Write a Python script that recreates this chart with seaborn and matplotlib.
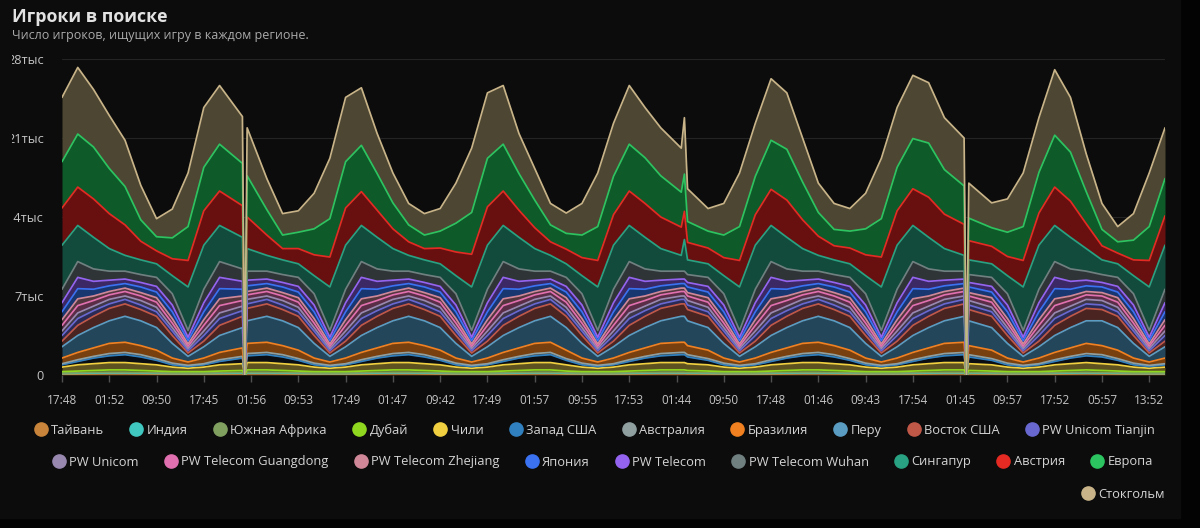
import numpy as np
import pandas as pd
import matplotlib
matplotlib.use("Agg")
import matplotlib.pyplot as plt
import seaborn as sns
from matplotlib.transforms import Bbox, TransformedBbox
from matplotlib.lines import Line2D
from matplotlib.patches import Rectangle

# sample positions: one step ~ 2h40m; the samples next to the two outages
# and the short burst are closer together
positions = [0, 1, 2, 3, 4, 5, 6, 7, 8, 9, 10, 11.45, 11.6, 11.75]
positions += list(range(13, 39)) + [39.3, 39.5, 39.7]
positions += list(range(41, 57)) + [57.25, 57.4, 57.55]
positions += list(range(59, 71))

tick_pos = list(range(0, 70, 3))
tick_labels = ["17:48", "01:52", "09:50", "17:45", "01:56", "09:53", "17:49", "01:47",
               "09:42", "17:49", "01:57", "09:55", "17:53", "01:44", "09:50", "17:48",
               "01:46", "09:43", "17:54", "01:45", "09:57", "17:52", "05:57", "13:52"]

regions = ["Тайвань", "Индия", "Южная Африка", "Дубай", "Чили", "Запад США", "Австралия",
           "Бразилия", "Перу", "Восток США", "PW Unicom Tianjin", "PW Unicom",
           "PW Telecom Guangdong", "PW Telecom Zhejiang", "Япония", "PW Telecom",
           "PW Telecom Wuhan", "Сингапур", "Австрия", "Европа", "Стокгольм"]

taiwan = [70,80,90,100,100,90,80,70,70,70,80,90, 0,
          100,100,90,80,70,70,70,80,90,100,100,90,80,70,70,70,80,90,100,100,80,70,70,70,80,90,100,100, 100,
          90,80,70,70,70,80,90,100,100,90,80,70,70,70,80,90,100,100, 0,
          90,80,70,70,70,80,90,100,90,80,70,70,70]
india = [60,70,80,90,90,80,70,60,60,60,70,80, 0,
         90,90,80,70,60,60,60,70,80,90,90,80,70,60,60,60,70,80,90,90,70,60,60,60,70,80,90,90, 90,
         80,70,60,60,60,70,80,90,90,80,70,60,60,60,70,80,90,90, 0,
         80,70,60,60,60,70,80,90,80,70,60,60,60]
south_africa = [40,50,60,60,60,50,50,40,40,40,50,60, 0,
                60,60,50,50,40,40,40,50,60,60,60,50,50,40,40,40,50,60,60,60,50,40,40,40,50,60,60,60, 60,
                50,50,40,40,40,50,60,60,60,50,50,40,40,40,50,60,60,60, 0,
                50,50,40,40,40,50,60,60,50,50,40,40,40]
dubai = [130,150,170,200,200,180,150,130,130,130,150,170, 0,
         200,200,180,150,130,130,130,150,170,200,200,180,150,130,130,130,150,170,200,200,150,130,130,130,150,170,200,200, 200,
         180,150,130,130,130,150,170,200,200,180,150,130,130,130,150,170,200,200, 0,
         180,150,130,130,130,150,170,200,180,150,130,130,130]
chile = [400,550,600,650,650,600,550,400,300,400,550,600, 0,
         650,650,600,550,400,300,400,550,600,650,650,600,550,400,300,400,550,600,650,650,550,400,300,400,550,600,650,650, 650,
         600,550,400,300,400,550,600,650,650,600,550,400,300,400,550,600,650,650, 0,
         600,550,400,300,400,550,600,650,600,550,400,300,400]
us_west = [200,300,500,600,700,600,400,200,150,200,300,500, 0,
           600,700,600,400,200,150,200,300,500,600,700,600,400,200,150,200,300,500,600,700,400,200,150,200,300,500,600,700, 700,
           600,400,200,150,200,300,500,600,700,600,400,200,150,200,300,500,600,700, 0,
           600,400,200,150,200,300,500,600,600,400,200,150,200]
australia = [100,150,150,200,200,200,150,150,100,100,150,150, 0,
             200,200,200,150,150,100,100,150,150,200,200,200,150,150,100,100,150,150,200,200,150,150,100,100,150,150,200,200, 200,
             200,150,150,100,100,150,150,200,200,200,150,150,100,100,150,150,200,200, 0,
             200,150,150,100,100,150,150,200,200,150,150,100,100]
brazil = [500,650,750,900,900,800,750,450,300,500,650,750, 0,
          900,900,800,750,450,300,500,650,750,900,900,800,750,450,300,500,650,750,900,900,750,450,300,500,650,750,900,900, 900,
          800,750,450,300,500,650,750,900,900,800,750,450,300,500,650,750,900,900, 0,
          800,750,450,300,500,650,750,900,800,750,450,300,500]
peru = [1000,1500,1800,2000,2300,2200,2000,1300,500,1000,1500,1800, 0,
        2000,2300,2200,2000,1300,500,1000,1500,1800,2000,2300,2200,2000,1300,500,1000,1500,1800,2000,2300,2000,1300,500,1000,1500,1800,2000,2300, 2300,
        2200,2000,1300,500,1000,1500,1800,2000,2300,2200,2000,1300,500,1000,1500,1800,2000,2300, 0,
        2200,2000,1300,500,1000,1500,1800,2000,2200,2000,1300,500,1000]
us_east = [500,900,1000,1100,1100,1000,1000,700,300,500,900,1000, 0,
           1100,1100,1000,1000,700,300,500,900,1000,1100,1100,1000,1000,700,300,500,900,1000,1100,1100,1000,700,300,500,900,1000,1100,1100, 1100,
           1000,1000,700,300,500,900,1000,1100,1100,1000,1000,700,300,500,900,1000,1100,1100, 0,
           1000,1000,700,300,500,900,1000,1100,1000,1000,700,300,500]
unicom_tianjin = [500,600,500,400,400,400,400,400,200,500,600,500, 0,
                  400,400,400,400,400,200,500,600,500,400,400,400,400,400,200,500,600,500,400,400,400,400,200,500,600,500,400,400, 400,
                  400,400,400,200,500,600,500,400,400,400,400,400,200,500,600,500,400,400, 0,
                  400,400,400,200,500,600,500,400,400,400,400,200,500]
unicom = [400,500,400,400,300,400,400,300,200,400,500,400, 0,
          400,300,400,400,300,200,400,500,400,400,300,400,400,300,200,400,500,400,400,300,400,300,200,400,500,400,400,300, 300,
          400,400,300,200,400,500,400,400,300,400,400,300,200,400,500,400,400,300, 0,
          400,400,300,200,400,500,400,400,400,400,300,200,400]
telecom_guangdong = [500,650,500,400,400,400,450,400,200,500,650,500, 0,
                     400,400,400,450,400,200,500,650,500,400,400,400,450,400,200,500,650,500,400,400,450,400,200,500,650,500,400,400, 400,
                     400,450,400,200,500,650,500,400,400,400,450,400,200,500,650,500,400,400, 0,
                     400,450,400,200,500,650,500,400,400,450,400,200,500]
telecom_zhejiang = [500,600,400,300,300,300,400,400,200,500,600,400, 0,
                    300,300,300,400,400,200,500,600,400,300,300,300,400,400,200,500,600,400,300,300,400,400,200,500,600,400,300,300, 300,
                    300,400,400,200,500,600,400,300,300,300,400,400,200,500,600,400,300,300, 0,
                    300,400,400,200,500,600,400,300,300,400,400,200,500]
japan = [700,900,600,500,400,500,500,600,300,700,900,600, 0,
         500,400,500,500,600,300,700,900,600,500,400,500,500,600,300,700,900,600,500,400,500,600,300,700,900,600,500,400, 400,
         500,500,600,300,700,900,600,500,400,500,500,600,300,700,900,600,500,400, 0,
         500,500,600,300,700,900,600,500,500,500,600,300,700]
telecom = [800,1000,700,500,400,400,500,600,300,800,1000,700, 0,
           500,400,400,500,600,300,800,1000,700,500,400,400,500,600,300,800,1000,700,500,400,500,600,300,800,1000,700,500,400, 400,
           400,500,600,300,800,1000,700,500,400,400,500,600,300,800,1000,700,500,400, 0,
           400,500,600,300,800,1000,700,500,400,500,600,300,800]
telecom_wuhan = [1200,1400,1100,800,700,700,800,1000,600,1200,1400,1100, 0,
                 800,700,700,800,1000,600,1200,1400,1100,800,700,700,800,1000,600,1200,1400,1100,800,700,800,1000,600,1200,1400,1100,800,700, 700,
                 700,800,1000,600,1200,1400,1100,800,700,700,800,1000,600,1200,1400,1100,800,700, 0,
                 700,800,1000,600,1200,1400,1100,800,700,800,1000,600,1200]
singapore = [3900,3200,2800,2000,1400,1300,1200,1600,3850,3900,3200,2800, 0,
             2000,1400,1300,1200,1600,3850,3900,3200,2800,2000,1400,1300,1200,1600,3850,3900,3200,2800,2000,1400,1200,1600,3850,3900,3200,2800,2000,1400, 2800,
             1300,1200,1600,3850,3900,3200,2800,2000,1400,1300,1200,1600,3850,3900,3200,2800,2000,1400, 0,
             1300,1200,1600,3850,3900,3200,2800,2000,1300,1200,1600,3850,3900]
austria = [3300,3400,3400,3100,2700,1650,1150,1500,2350,3050,3050,2800, 0,
           2800,1800,1000,1350,1850,2650,3300,3000,2400,1750,1200,1000,1400,2100,2900,3400,3050,2400,1850,1200,1300,1600,2350,2700,3050,3000,2800,2500, 2500,
           1550,1400,1600,2350,2700,3200,3300,2550,1700,1250,1400,1850,2650,3050,3250,3550,3050,2750, 0,
           1700,1550,1700,2350,2850,3400,3200,2200,1250,950,1400,2350,2600]
europe = [4100,4700,4600,4000,3400,1900,1250,1850,3000,3850,4150,3750, 0,
          3650,2250,1200,1450,2300,3400,4100,4100,3250,2300,1500,1200,1500,2550,3700,4300,4150,3250,2450,1500,1400,2000,3000,3400,4150,4050,3650,3100, 3300,
          1850,1500,2000,3000,3400,4350,4500,3350,2100,1450,1500,2300,3400,3850,4450,4800,3950,3400, 0,
          2000,1650,2150,3000,3600,4600,4350,2850,1450,1000,1750,3000,3300]
stockholm = [5700,5900,5100,4700,4100,3050,1600,2550,4750,5300,5200,4150, 0,
             4250,2750,1900,1900,3150,5350,5700,5100,3550,2650,1900,1900,2000,3550,5700,5800,5200,3550,2800,1900,1800,2800,4750,4700,5200,4450,4250,3900, 5000,
             2900,2000,2800,4750,4700,5450,5000,3900,2600,2300,2000,3150,5350,5300,5600,5350,4600,4250, 0,
             3100,2200,2950,4750,4850,5800,4850,3350,2300,1350,2350,4750,4500]

series = [taiwan, india, south_africa, dubai, chile, us_west, australia, brazil, peru,
          us_east, unicom_tianjin, unicom, telecom_guangdong, telecom_zhejiang, japan,
          telecom, telecom_wuhan, singapore, austria, europe, stockholm]

line_colors = ["#c8843a", "#40c8c0", "#80a060", "#90d820", "#f0d040", "#3080c0", "#90a0a0",
               "#f08020", "#5a9cc2", "#c05848", "#6868d0", "#9888b0", "#e070b0", "#d08898",
               "#3a72f2", "#9464f0", "#708080", "#28a282", "#e42a22", "#2cc460", "#c8b488"]
fill_colors = ["#503517", "#1a504d", "#334026", "#3a560d", "#5e5220", "#0a0e12", "#3a4040",
               "#78400f", "#24465a", "#4a2420", "#2a2a55", "#3d3646", "#5a2d46", "#53363d",
               "#183670", "#3c2864", "#2f3536", "#124a3c", "#681010", "#0f5a29", "#4d4633"]

df = pd.DataFrame(dict(zip(regions, series)), index=positions)
df.index.name = "pos"
tops = df.cumsum(axis=1)
long = tops.reset_index().melt(id_vars="pos", var_name="region", value_name="top")

sns.set_theme(style="dark")
plt.rcParams["font.family"] = ["Open Sans", "DejaVu Sans"]

fig = plt.figure(figsize=(12, 5.28), dpi=100, facecolor="#030303")
fig.patches.append(Rectangle((0, 1 - 518 / 528), 1180 / 1200, 518 / 528,
                             transform=fig.transFigure, color="#0c0c0c", zorder=-10))

ax = fig.add_axes([62 / 1200, 1 - 375 / 528, 1103 / 1200, 316 / 528])
ax.set_facecolor("#0c0c0c")

ax.stackplot(df.index, *[df[r] for r in regions], colors=fill_colors, linewidth=0)
sns.lineplot(data=long, x="pos", y="top", hue="region", hue_order=regions,
             palette=line_colors, linewidth=1.25, legend=False, estimator=None, ax=ax)

ax.set_xlim(0, 70)
ax.set_ylim(0, 28000)
ax.set_xlabel("")
ax.set_ylabel("")
for s in ax.spines.values():
    s.set_visible(False)

ax.set_xticks(tick_pos)
ax.set_xticklabels(tick_labels)
yt = [0, 7000, 14000, 21000, 28000]
ax.set_yticks(yt)
ax.set_yticklabels(["0" if v == 0 else f"{v // 1000}тыс" for v in yt])
ax.grid(False)
ax.yaxis.grid(True, color="#242424", linewidth=0.8)
ax.tick_params(axis="x", length=5, width=1, color="#505050", pad=9,
               labelsize=8.5, labelcolor="#c4c4c4", bottom=True)
ax.tick_params(axis="y", length=0, pad=13, labelsize=9.2, labelcolor="#c4c4c4")

# the y labels are cut at the left edge of the panel
clip = TransformedBbox(Bbox([[12 / 1200, 0], [1, 1]]), fig.transFigure)
for t in ax.yaxis.get_major_ticks():
    t.label1.set_clip_box(clip)
    t.label1.set_clip_on(True)

fig.text(12 / 1200, 1 - 17 / 528, "Игроки в поиске", fontsize=12.8, fontweight="bold",
         color="#e2e2e2", va="center", ha="left")
fig.text(12 / 1200, 1 - 36 / 528, "Число игроков, ищущих игру в каждом регионе.",
         fontsize=9.0, color="#aaaaaa", va="center", ha="left")

# legend, three right aligned rows
rows = [(regions[:11], line_colors[:11], 1155, 430),
        (regions[11:20], line_colors[11:20], 1153, 462),
        (regions[20:], line_colors[20:], 1165, 494)]
for names, cols, xr, yc in rows:
    handles = [Line2D([], [], marker="o", linestyle="", markersize=9.5,
                      markerfacecolor=c, markeredgecolor=c) for c in cols]
    fig.legend(handles, names, loc="center right", bbox_to_anchor=(xr / 1200, 1 - yc / 528),
               ncol=len(names), frameon=False, fontsize=9.3, labelcolor="#d4d4d4",
               handlelength=1.0, handletextpad=0.3, columnspacing=2.0,
               borderpad=0, borderaxespad=0)

fig.savefig("out.png", dpi=100, facecolor=fig.get_facecolor())
